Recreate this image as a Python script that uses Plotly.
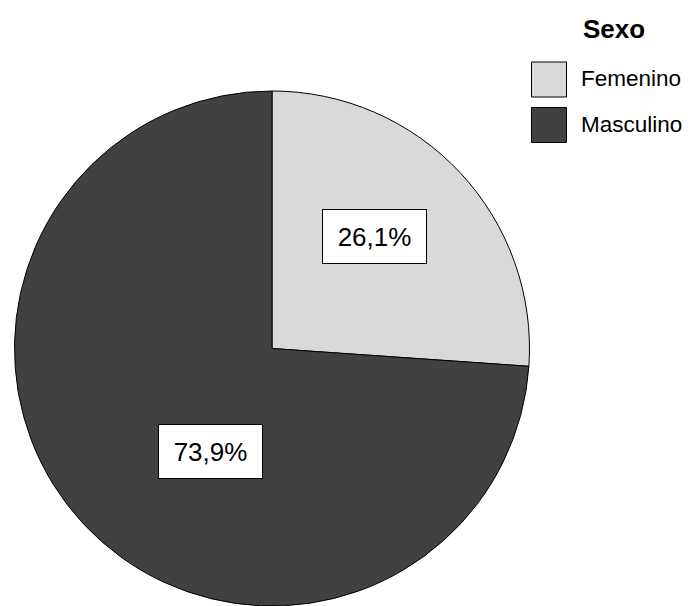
import plotly.graph_objects as go

# Distribution by sex (percent)
categories = ["Femenino", "Masculino"]
percentages = [26.1, 73.9]
legend_title = "Sexo"
slice_colors = ["#d9d9d9", "#414141"]

W, H = 692, 606
FONT = "Liberation Sans, Arial, Helvetica, sans-serif"


def px_x(x):
    return x / W


def px_y(y):
    return 1 - y / H


fig = go.Figure()
fig.add_trace(go.Pie(
    labels=categories,
    values=percentages,
    sort=False,
    direction="clockwise",
    rotation=0,
    marker=dict(colors=slice_colors, line=dict(color="#000000", width=1)),
    textinfo="none",
    hoverinfo="label+percent",
    showlegend=False,
    domain=dict(x=[px_x(14), px_x(530)], y=[0, px_y(91)]),
))

# Boxed percentage labels inside each slice
label_pos = [(374, 236), (210, 451)]
annotations = []
for value, (lx, ly) in zip(percentages, label_pos):
    annotations.append(dict(
        x=px_x(lx), y=px_y(ly), xref="paper", yref="paper",
        text=f"{value:.1f}".replace(".", ",") + "%",
        showarrow=False, xanchor="center", yanchor="middle",
        font=dict(family=FONT, size=26, color="#000000"),
        bgcolor="#ffffff", bordercolor="#000000", borderwidth=1,
        borderpad=1, width=101, height=51, align="center",
    ))

# Legend drawn with large swatches
annotations.append(dict(
    x=px_x(614), y=px_y(29), xref="paper", yref="paper",
    text=f"<b>{legend_title}</b>", showarrow=False,
    xanchor="center", yanchor="middle",
    font=dict(family=FONT, size=26, color="#000000"),
))
shapes = []
for i, (name, color) in enumerate(zip(categories, slice_colors)):
    top = 62 + i * 45.5
    shapes.append(dict(
        type="rect", xref="paper", yref="paper",
        x0=px_x(531.5), x1=px_x(566.5), y0=px_y(top), y1=px_y(top + 35),
        fillcolor=color, line=dict(color="#000000", width=1),
    ))
    annotations.append(dict(
        x=px_x(579), y=px_y(top + 17), xref="paper", yref="paper",
        text=name, showarrow=False, xanchor="left", yanchor="middle",
        font=dict(family=FONT, size=22.5, color="#000000"),
    ))

fig.update_layout(
    width=W, height=H,
    margin=dict(l=0, r=0, t=0, b=0),
    paper_bgcolor="#ffffff", plot_bgcolor="#ffffff",
    annotations=annotations, shapes=shapes,
    font=dict(family=FONT),
)

fig.write_html("out.html")
